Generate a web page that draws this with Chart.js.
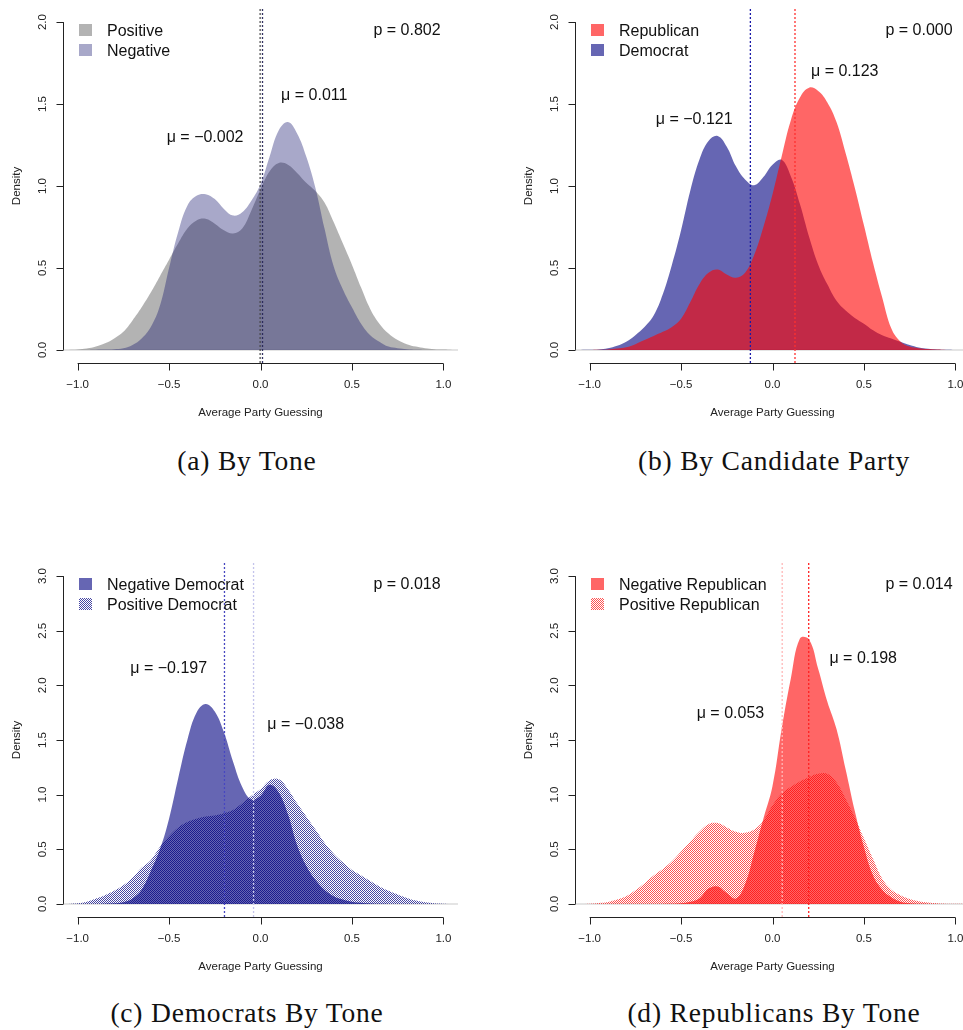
<!DOCTYPE html>
<html>
<head>
<meta charset="utf-8">
<script src="https://cdn.jsdelivr.net/npm/chart.js@4.4.0/dist/chart.umd.min.js"></script>
<style>
html,body{margin:0;padding:0;background:#fff;overflow:hidden;}
#wrap{position:relative;width:963px;height:1030px;overflow:hidden;background:#fff;}
#wrap canvas{position:absolute;}
.cap{position:absolute;font-family:"Liberation Serif","Times New Roman",serif;font-size:27.5px;color:#111;white-space:nowrap;transform:translateX(-50%);letter-spacing:0.8px;line-height:30px;}
</style>
</head>
<body>
<div id="wrap">
  <canvas id="pa" width="470" height="430" style="left:0px;top:0px"></canvas>
  <canvas id="pb" width="470" height="430" style="left:512px;top:0px"></canvas>
  <canvas id="pc" width="470" height="430" style="left:0px;top:554px"></canvas>
  <canvas id="pd" width="470" height="430" style="left:512px;top:554px"></canvas>
  <div class="cap" style="left:247px;top:446px">(a) By Tone</div>
  <div class="cap" style="left:774px;top:446px">(b) By Candidate Party</div>
  <div class="cap" style="left:247px;top:998px">(c) Democrats By Tone</div>
  <div class="cap" style="left:774px;top:998px">(d) Republicans By Tone</div>
</div>
<script>
// ---------------- data ----------------
const gridX = [-1.05,-1.00,-0.95,-0.90,-0.85,-0.80,-0.75,-0.70,-0.65,-0.60,-0.55,-0.50,-0.45,-0.40,-0.35,-0.30,-0.25,-0.20,-0.15,-0.10,-0.05,
  0.00,0.05,0.10,0.15,0.20,0.25,0.30,0.35,0.40,0.45,0.50,0.55,0.60,0.65,0.70,0.75,0.80,0.85,0.90,0.95,1.00,1.05];

const tonePositive = [0.000,0.002,0.008,0.020,0.040,0.070,0.110,0.180,0.260,0.350,0.450,0.550,0.650,0.740,0.790,0.800,0.770,0.730,0.710,0.740,0.850,
  0.980,1.090,1.140,1.130,1.080,1.020,0.970,0.900,0.780,0.650,0.520,0.380,0.250,0.160,0.100,0.060,0.035,0.020,0.010,0.004,0.002,0.000];
const toneNegative = [0.000,0.000,0.000,0.001,0.002,0.004,0.010,0.030,0.070,0.140,0.270,0.500,0.720,0.880,0.940,0.950,0.920,0.860,0.820,0.840,0.910,
  1.010,1.180,1.340,1.390,1.320,1.180,0.990,0.740,0.510,0.370,0.260,0.160,0.090,0.050,0.020,0.010,0.004,0.001,0.000,0.000,0.000,0.000];

const partyDemocrat = [0.000,0.001,0.003,0.010,0.025,0.050,0.090,0.140,0.210,0.340,0.520,0.730,0.970,1.160,1.275,1.305,1.240,1.120,1.040,1.005,1.055,
  1.130,1.160,1.060,0.890,0.690,0.520,0.400,0.300,0.240,0.195,0.160,0.120,0.090,0.070,0.050,0.030,0.015,0.007,0.003,0.001,0.000,0.000];
const partyRepublican = [0.000,0.000,0.001,0.003,0.008,0.016,0.035,0.060,0.085,0.110,0.140,0.190,0.290,0.400,0.470,0.490,0.460,0.440,0.470,0.580,0.750,
  0.950,1.180,1.400,1.540,1.600,1.580,1.510,1.390,1.200,0.990,0.760,0.530,0.320,0.130,0.050,0.020,0.010,0.005,0.002,0.000,0.000,0.000];

const demNegative = [0.000,0.000,0.000,0.000,0.002,0.005,0.015,0.050,0.130,0.300,0.500,0.780,1.150,1.500,1.750,1.830,1.760,1.570,1.300,1.070,0.955,
  0.990,1.090,1.020,0.820,0.540,0.350,0.220,0.130,0.070,0.040,0.020,0.010,0.004,0.001,0.000,0.000,0.000,0.000,0.000,0.000,0.000,0.000];
const demPositive = [0.000,0.005,0.020,0.050,0.080,0.120,0.170,0.240,0.330,0.400,0.520,0.620,0.700,0.750,0.780,0.800,0.810,0.830,0.860,0.920,0.990,
  1.050,1.130,1.140,1.050,0.920,0.800,0.680,0.560,0.460,0.380,0.310,0.260,0.210,0.160,0.120,0.085,0.055,0.030,0.015,0.006,0.002,0.000];

const repNegative = [0.000,0.000,0.000,0.000,0.000,0.000,0.000,0.000,0.000,0.000,0.001,0.005,0.020,0.050,0.140,0.160,0.100,0.050,0.180,0.470,0.780,
  1.080,1.600,2.060,2.430,2.420,2.150,1.850,1.600,1.230,0.850,0.520,0.260,0.130,0.060,0.020,0.005,0.001,0.000,0.000,0.000,0.000,0.000];
const repPositive = [0.000,0.002,0.008,0.018,0.040,0.070,0.125,0.190,0.260,0.320,0.390,0.480,0.570,0.660,0.730,0.740,0.700,0.660,0.650,0.680,0.760,
  0.900,1.010,1.070,1.120,1.160,1.190,1.190,1.110,0.960,0.790,0.600,0.410,0.230,0.130,0.080,0.045,0.025,0.012,0.005,0.002,0.001,0.000];

const xTicks = [-1.0,-0.5,0.0,0.5,1.0];
const yTicksTop = [0.0,0.5,1.0,1.5,2.0];
const yTicksBottom = [0.0,0.5,1.0,1.5,2.0,2.5,3.0];

const meansTone = { positive: -0.002, negative: 0.011 };
const meansParty = { republican: 0.123, democrat: -0.121 };
const meansDem = { negative: -0.197, positive: -0.038 };
const meansRep = { negative: 0.198, positive: 0.053 };
const pValues = { tone: '0.802', party: '0.000', dem: '0.018', rep: '0.014' };

// ---------------- helpers ----------------
const W = 470, H = 430;
function fmt(v){ return (v < 0 ? '\u2212' : '') + Math.abs(v).toFixed(1); }
function fmtMu(v){ return '\u03bc = ' + (v < 0 ? '\u2212' : '') + Math.abs(v).toFixed(3); }

function hatch(r,g,b,a){
  const c = document.createElement('canvas');
  c.width = 2; c.height = 2;
  const x = c.getContext('2d');
  x.fillStyle = `rgba(${r},${g},${b},${a})`;
  x.fillRect(0, 0, 1, 1);
  x.fillRect(1, 1, 1, 1);
  return document.createElement('canvas').getContext('2d').createPattern(c, 'repeat');
}

const FONT = '"Liberation Sans", Arial, Helvetica, sans-serif';

function rPlugin(p){
  return {
    id: 'rPlot',
    beforeDatasetsDraw(chart){
      const {ctx, chartArea: a, scales: {y}} = chart;
      const y0 = y.getPixelForValue(0);
      ctx.save();
      ctx.strokeStyle = 'rgba(0,0,0,0.14)';
      ctx.lineWidth = 1.5;
      ctx.beginPath(); ctx.moveTo(a.left, y0); ctx.lineTo(a.right, y0); ctx.stroke();
      ctx.restore();
    },
    afterDatasetsDraw(chart){
      const {ctx, chartArea: a, scales: {x, y}} = chart;
      ctx.save();
      // mean lines
      ctx.lineWidth = 1.3;
      ctx.setLineDash([2, 2]);
      p.means.forEach(m => {
        const px = x.getPixelForValue(m.v);
        ctx.strokeStyle = m.color;
        ctx.beginPath(); ctx.moveTo(px, a.top); ctx.lineTo(px, a.bottom); ctx.stroke();
      });
      ctx.setLineDash([]);
      // axes
      ctx.strokeStyle = '#222';
      ctx.fillStyle = '#222';
      ctx.lineWidth = 1;
      const yt = p.yTicks;
      const lx = Math.round(a.left) + 0.5;
      ctx.beginPath();
      ctx.moveTo(lx, y.getPixelForValue(yt[0]));
      ctx.lineTo(lx, y.getPixelForValue(yt[yt.length-1]));
      yt.forEach(v => { const py = Math.round(y.getPixelForValue(v)) + 0.5; ctx.moveTo(lx - 7, py); ctx.lineTo(lx, py); });
      ctx.stroke();
      ctx.font = '11.5px ' + FONT;
      ctx.textAlign = 'center';
      ctx.textBaseline = 'alphabetic';
      yt.forEach(v => {
        const py = y.getPixelForValue(v);
        ctx.save(); ctx.translate(46, py); ctx.rotate(-Math.PI/2); ctx.fillText(fmt(v), 0, 0); ctx.restore();
      });
      const by = Math.round(a.bottom) + 0.5;
      ctx.beginPath();
      ctx.moveTo(x.getPixelForValue(xTicks[0]), by);
      ctx.lineTo(x.getPixelForValue(xTicks[xTicks.length-1]), by);
      xTicks.forEach(v => { const px = Math.round(x.getPixelForValue(v)) + 0.5; ctx.moveTo(px, by); ctx.lineTo(px, by + 7); });
      ctx.stroke();
      xTicks.forEach(v => ctx.fillText(fmt(v), x.getPixelForValue(v), 388));
      ctx.fillText('Average Party Guessing', x.getPixelForValue(0), 416);
      ctx.save(); ctx.translate(20, (a.top + a.bottom)/2); ctx.rotate(-Math.PI/2); ctx.fillText('Density', 0, 0); ctx.restore();
      // legend
      ctx.font = '16px ' + FONT;
      ctx.fillStyle = '#111';
      ctx.textAlign = 'left';
      p.legend.forEach((it, i) => {
        ctx.fillStyle = it.fill;
        ctx.fillRect(a.left + 16, 24 + 20*i, 13, 12);
        ctx.fillStyle = '#111';
        ctx.fillText(it.label, a.left + 44, 36 + 20*i);
      });
      // p value
      ctx.textAlign = 'center';
      ctx.fillText('p = ' + p.pValue, 407, 35);
      // mu labels
      p.mu.forEach(m => ctx.fillText(fmtMu(m.v), x.getPixelForValue(m.x), y.getPixelForValue(m.y)));
      ctx.restore();
    }
  };
}

function panel(id, p){
  const datasets = p.series.map(s => ({
    label: s.label,
    data: gridX.map((gx, i) => ({x: gx, y: s.values[i]})),
    fill: 'origin',
    backgroundColor: s.fill,
    borderColor: 'rgba(0,0,0,0)',
    borderWidth: 0,
    pointRadius: 0,
    pointHoverRadius: 0,
    tension: 0.4,
    order: s.order
  }));
  new Chart(document.getElementById(id), {
    type: 'line',
    data: { datasets },
    options: {
      responsive: false,
      animation: false,
      events: [],
      layout: { padding: { left: 63, top: 9, right: W - 458, bottom: H - 363 } },
      scales: {
        x: { type: 'linear', min: -1.08, max: 1.08, display: false },
        y: { type: 'linear', min: -0.04 * p.yTicks[p.yTicks.length-1], max: 1.04 * p.yTicks[p.yTicks.length-1], display: false }
      },
      plugins: { legend: { display: false }, tooltip: { enabled: false } }
    },
    plugins: [rPlugin(p)]
  });
}

const greyFill = 'rgba(128,128,128,0.6)';
const lavFill = 'rgba(15,15,105,0.36)';
const navyFill = 'rgba(0,0,128,0.6)';
const redFill = 'rgba(255,0,0,0.6)';
const navyHatch = hatch(0,0,128,0.72);
const redHatch = hatch(255,0,0,0.68);

panel('pa', {
  yTicks: yTicksTop,
  series: [
    { label: 'Positive', values: tonePositive, fill: greyFill, order: 2 },
    { label: 'Negative', values: toneNegative, fill: lavFill, order: 1 }
  ],
  legend: [ { label: 'Positive', fill: greyFill }, { label: 'Negative', fill: lavFill } ],
  means: [ { v: meansTone.positive, color: 'rgba(70,70,70,0.95)' }, { v: meansTone.negative, color: 'rgba(40,40,90,0.95)' } ],
  pValue: pValues.tone,
  mu: [ { v: meansTone.negative, x: 0.294, y: 1.525 }, { v: meansTone.positive, x: -0.303, y: 1.27 } ]
});

panel('pb', {
  yTicks: yTicksTop,
  series: [
    { label: 'Democrat', values: partyDemocrat, fill: navyFill, order: 2 },
    { label: 'Republican', values: partyRepublican, fill: redFill, order: 1 }
  ],
  legend: [ { label: 'Republican', fill: redFill }, { label: 'Democrat', fill: navyFill } ],
  means: [ { v: meansParty.democrat, color: '#1a1aa8' }, { v: meansParty.republican, color: '#ff3030' } ],
  pValue: pValues.party,
  mu: [ { v: meansParty.republican, x: 0.395, y: 1.67 }, { v: meansParty.democrat, x: -0.428, y: 1.378 } ]
});

panel('pc', {
  yTicks: yTicksBottom,
  series: [
    { label: 'Negative Democrat', values: demNegative, fill: navyFill, order: 2 },
    { label: 'Positive Democrat', values: demPositive, fill: navyHatch, order: 1 }
  ],
  legend: [ { label: 'Negative Democrat', fill: navyFill }, { label: 'Positive Democrat', fill: navyHatch } ],
  means: [ { v: meansDem.negative, color: '#4646c0' }, { v: meansDem.positive, color: '#c4c4ec' } ],
  pValue: pValues.dem,
  mu: [ { v: meansDem.negative, x: -0.502, y: 2.116 }, { v: meansDem.positive, x: 0.247, y: 1.605 } ]
});

panel('pd', {
  yTicks: yTicksBottom,
  series: [
    { label: 'Negative Republican', values: repNegative, fill: redFill, order: 2 },
    { label: 'Positive Republican', values: repPositive, fill: redHatch, order: 1 }
  ],
  legend: [ { label: 'Negative Republican', fill: redFill }, { label: 'Positive Republican', fill: redHatch } ],
  means: [ { v: meansRep.positive, color: '#ffb8b8' }, { v: meansRep.negative, color: '#ff2020' } ],
  pValue: pValues.rep,
  mu: [ { v: meansRep.negative, x: 0.496, y: 2.208 }, { v: meansRep.positive, x: -0.230, y: 1.70 } ]
});
</script>
</body>
</html>
